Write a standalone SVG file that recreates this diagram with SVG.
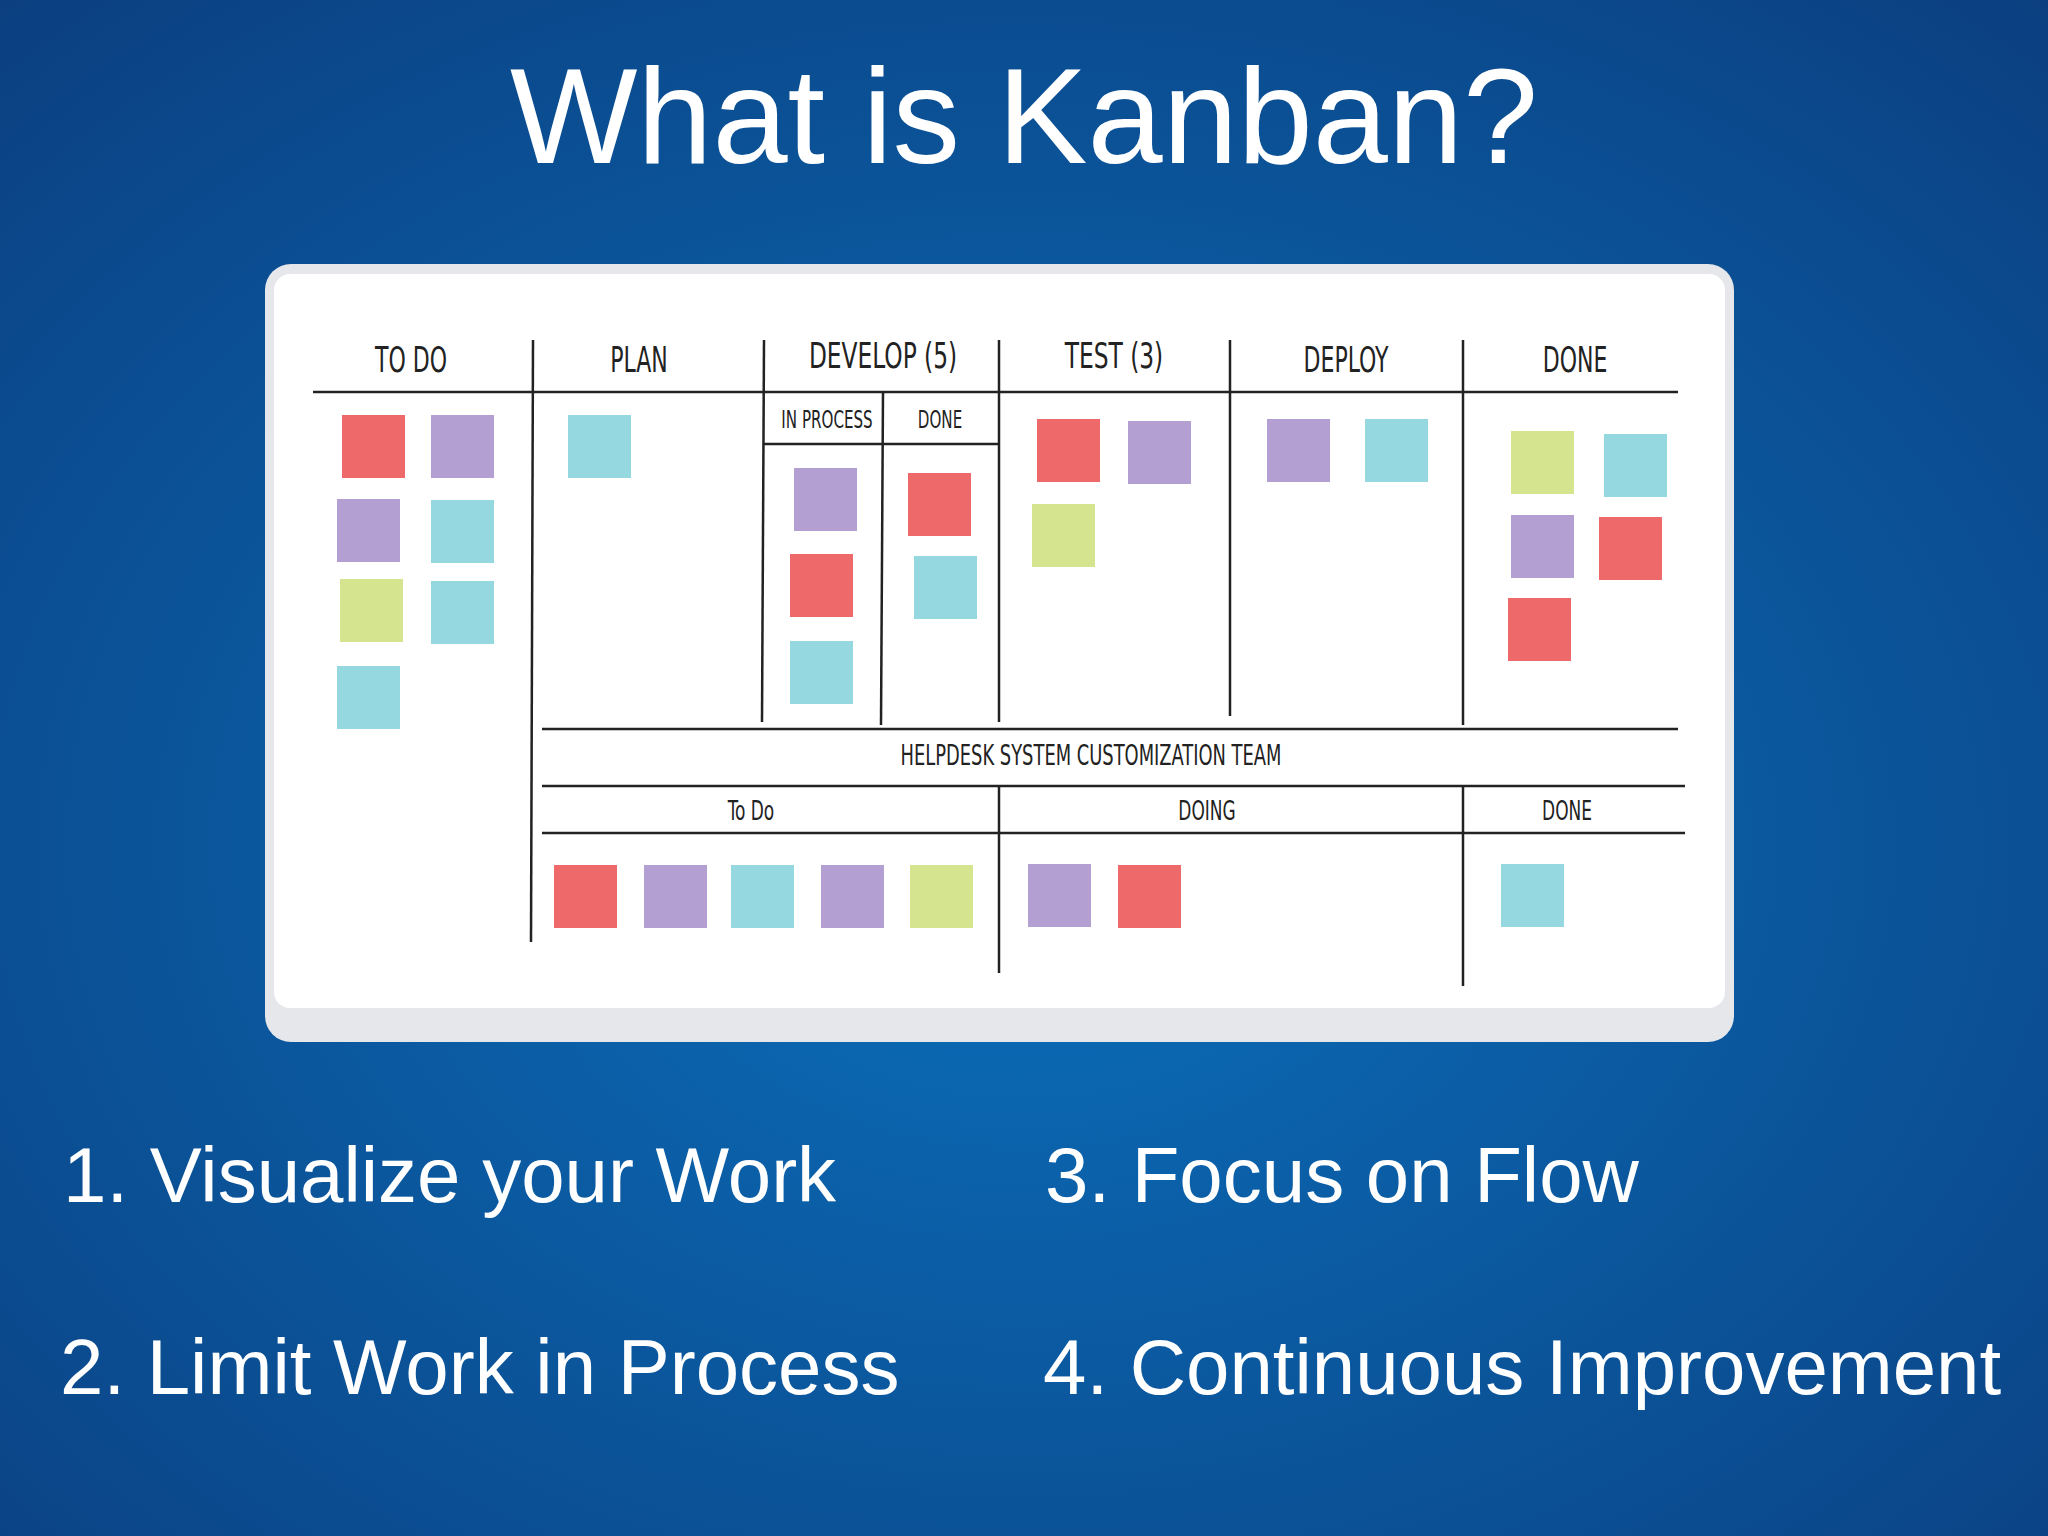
<svg xmlns="http://www.w3.org/2000/svg" width="2048" height="1536" viewBox="0 0 2048 1536">
<defs>
<radialGradient id="bg" cx="0.5" cy="0.55" r="0.75">
<stop offset="0" stop-color="#0b6fbb"/><stop offset="1" stop-color="#0b3f80"/>
</radialGradient>
<style>
.t{font-family:"Liberation Sans",Arial,sans-serif;fill:#fff}
.h{font-family:"DejaVu Sans Condensed","DejaVu Sans",sans-serif;font-stretch:condensed;fill:#222;text-anchor:middle}
.ln{stroke:#222;stroke-width:2.5;fill:none}
.r{fill:#ee6a6a}.p{fill:#b49fd2}.c{fill:#95d8df}.g{fill:#d4e48f}
</style>
</defs>
<rect width="2048" height="1536" fill="url(#bg)"/>
<text class="t" x="1024" y="163" font-size="135" text-anchor="middle">What is Kanban?</text>
<g id="board">
<rect x="265" y="264" width="1469" height="778" rx="26" fill="#e6e7ea"/>
<rect x="274" y="274" width="1451" height="734" rx="16" fill="#fff"/>
</g>
<g id="lines">
<line class="ln" x1="313" y1="392" x2="1678" y2="392"/>
<line class="ln" x1="533" y1="340" x2="531" y2="942"/>
<line class="ln" x1="764" y1="340" x2="762" y2="722"/>
<line class="ln" x1="999" y1="340" x2="999" y2="722"/>
<line class="ln" x1="999" y1="786" x2="999" y2="973"/>
<line class="ln" x1="1230" y1="340" x2="1230" y2="716"/>
<line class="ln" x1="1463" y1="340" x2="1463" y2="725"/>
<line class="ln" x1="1463" y1="786" x2="1463" y2="986"/>
<line class="ln" x1="764" y1="444" x2="999" y2="444"/>
<line class="ln" x1="883" y1="392" x2="881" y2="725"/>
<line class="ln" x1="542" y1="729" x2="1678" y2="729"/>
<line class="ln" x1="542" y1="786" x2="1685" y2="786"/>
<line class="ln" x1="542" y1="833" x2="1685" y2="833"/>
</g>
<g id="labels">
<text class="h" transform="translate(411,372) scale(0.68,1)" font-size="36">TO DO</text>
<text class="h" transform="translate(639,372) scale(0.68,1)" font-size="36">PLAN</text>
<text class="h" transform="translate(883,368) scale(0.72,1)" font-size="36">DEVELOP (5)</text>
<text class="h" transform="translate(1114,368) scale(0.72,1)" font-size="36">TEST (3)</text>
<text class="h" transform="translate(1346,372) scale(0.68,1)" font-size="36">DEPLOY</text>
<text class="h" transform="translate(1575,372) scale(0.68,1)" font-size="36">DONE</text>
<text class="h" transform="translate(827,428) scale(0.7,1)" font-size="24">IN PROCESS</text>
<text class="h" transform="translate(940,428) scale(0.7,1)" font-size="24">DONE</text>
<text class="h" transform="translate(1091,765) scale(0.71,1)" font-size="28">HELPDESK SYSTEM CUSTOMIZATION TEAM</text>
<text class="h" transform="translate(751,820) scale(0.7,1)" font-size="27">To Do</text>
<text class="h" transform="translate(1207,820) scale(0.7,1)" font-size="27">DOING</text>
<text class="h" transform="translate(1567,820) scale(0.7,1)" font-size="27">DONE</text>
</g>
<g id="notes">
<rect class="r" x="342" y="415" width="63" height="63"/><rect class="p" x="431" y="415" width="63" height="63"/>
<rect class="p" x="337" y="499" width="63" height="63"/><rect class="c" x="431" y="500" width="63" height="63"/>
<rect class="g" x="340" y="579" width="63" height="63"/><rect class="c" x="431" y="581" width="63" height="63"/>
<rect class="c" x="337" y="666" width="63" height="63"/>
<rect class="c" x="568" y="415" width="63" height="63"/>
<rect class="p" x="794" y="468" width="63" height="63"/><rect class="r" x="790" y="554" width="63" height="63"/><rect class="c" x="790" y="641" width="63" height="63"/>
<rect class="r" x="908" y="473" width="63" height="63"/><rect class="c" x="914" y="556" width="63" height="63"/>
<rect class="r" x="1037" y="419" width="63" height="63"/><rect class="p" x="1128" y="421" width="63" height="63"/><rect class="g" x="1032" y="504" width="63" height="63"/>
<rect class="p" x="1267" y="419" width="63" height="63"/><rect class="c" x="1365" y="419" width="63" height="63"/>
<rect class="g" x="1511" y="431" width="63" height="63"/><rect class="c" x="1604" y="434" width="63" height="63"/>
<rect class="p" x="1511" y="515" width="63" height="63"/><rect class="r" x="1599" y="517" width="63" height="63"/>
<rect class="r" x="1508" y="598" width="63" height="63"/>
<rect class="r" x="554" y="865" width="63" height="63"/><rect class="p" x="644" y="865" width="63" height="63"/>
<rect class="c" x="731" y="865" width="63" height="63"/><rect class="p" x="821" y="865" width="63" height="63"/>
<rect class="g" x="910" y="865" width="63" height="63"/><rect class="p" x="1028" y="864" width="63" height="63"/>
<rect class="r" x="1118" y="865" width="63" height="63"/><rect class="c" x="1501" y="864" width="63" height="63"/>
</g>
<g id="list" font-size="78">
<text class="t" x="63" y="1202">1. Visualize your Work</text>
<text class="t" x="1045" y="1202">3. Focus on Flow</text>
<text class="t" x="60" y="1394">2. Limit Work in Process</text>
<text class="t" x="1043" y="1394">4. Continuous Improvement</text>
</g>
</svg>
